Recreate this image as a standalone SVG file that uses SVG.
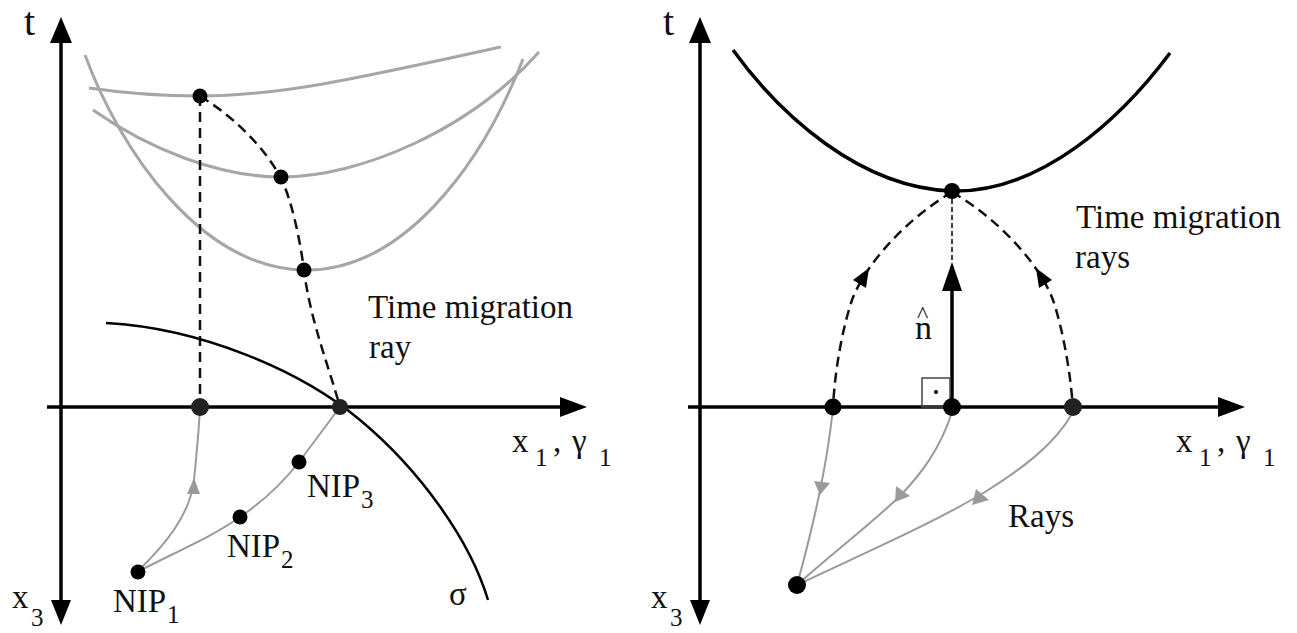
<svg xmlns="http://www.w3.org/2000/svg" width="1297" height="633" viewBox="0 0 1297 633">
<style>
text{font-family:"Liberation Serif","Times New Roman",serif;fill:#111}
.lbl{font-size:33px}
.sub{font-size:25px}
.ax{stroke:#000;stroke-width:3.5;fill:none}
.ah{fill:#000}
.gc{stroke:#a6a6a6;stroke-width:3;fill:none}
.ray{stroke:#9a9a9a;stroke-width:2;fill:none}
.rah{fill:#9a9a9a}
.dash{stroke:#111;stroke-width:2.5;fill:none;stroke-dasharray:10 6}
.blk{stroke:#000;fill:none}
.dot{fill:#000}
.adot{fill:#222}
</style>
<rect width="1297" height="633" fill="#fff"/>

<!-- LEFT PANEL -->
<g id="left-axes">
  <path class="ax" d="M47,407 H565"/>
  <polygon class="ah" points="587,407 560,397 560,417"/>
  <path class="ax" d="M61,40 V603"/>
  <polygon class="ah" points="61,17 50,43 72,43"/>
  <polygon class="ah" points="61,625 51,600 71,600"/>
  <text class="lbl" x="24" y="35" style="font-size:40px">t</text>
  <text class="lbl" x="12" y="608">x</text><text class="sub" x="31" y="626">3</text>
  <text class="lbl" x="512" y="452">x</text><text class="sub" x="535" y="466">1</text>
  <text class="lbl" x="553" y="452">,</text>
  <text class="lbl" x="572" y="452">γ</text><text class="sub" x="599" y="466">1</text>
</g>

<g id="left-connectors">
  <path class="gc" d="M89,88 C130,94 165,96 200,96 C280,96 360,78 501,47"/>
  <path class="gc" d="M93,110 C150,150 220,177 281,177 C360,177 470,130 539,52"/>
  <path class="gc" d="M85,55 C120,150 200,268 304,270 C400,272 480,170 523,59"/>
  <path class="dash" d="M200,96 V407"/>
  <path class="dash" d="M200,96 C235,118 262,145 280,176 C292,200 300,240 304,270 C310,320 330,370 340,407"/>
  <path class="blk" stroke-width="2.5" d="M106,323 C200,328 300,370 360,420 C420,470 470,540 488,600"/>
  <path class="ray" d="M137,572 C165,545 190,515 194,480 C197,450 199,430 200,407"/>
  <polygon class="rah" points="194,478 187,494 200,494"/>
  <path class="ray" d="M137,572 C180,550 215,535 240,517 C265,500 285,480 299,462 L340,407"/>
</g>

<g id="left-dots">
  <circle class="dot" cx="200" cy="96" r="7.5"/>
  <circle class="dot" cx="281" cy="177" r="7.5"/>
  <circle class="dot" cx="304" cy="270" r="7.5"/>
  <circle class="adot" cx="200" cy="407" r="9"/>
  <circle class="adot" cx="340" cy="407" r="8"/>
</g>

<g id="nip1"><circle class="dot" cx="138" cy="572" r="7.5"/>
  <text class="lbl" x="113" y="612">NIP</text><text class="sub" x="167" y="623">1</text></g>
<g id="nip2"><circle class="dot" cx="240" cy="517" r="7.5"/>
  <text class="lbl" x="227" y="557">NIP</text><text class="sub" x="281" y="568">2</text></g>
<g id="nip3"><circle class="dot" cx="299" cy="462" r="7.5"/>
  <text class="lbl" x="307" y="497">NIP</text><text class="sub" x="361" y="508">3</text></g>

<g id="left-labels">
  <text class="lbl" x="368" y="318">Time migration</text>
  <text class="lbl" x="369" y="358">ray</text>
  <text class="lbl" x="449" y="605">σ</text>
</g>

<!-- RIGHT PANEL -->
<g id="right-axes">
  <path class="ax" d="M688,407 H1222"/>
  <polygon class="ah" points="1245,407 1218,397 1218,417"/>
  <path class="ax" d="M700,40 V603"/>
  <polygon class="ah" points="700,17 689,43 711,43"/>
  <polygon class="ah" points="700,625 690,600 710,600"/>
  <text class="lbl" x="663" y="35" style="font-size:40px">t</text>
  <text class="lbl" x="651" y="608">x</text><text class="sub" x="670" y="626">3</text>
  <text class="lbl" x="1176" y="452">x</text><text class="sub" x="1199" y="466">1</text>
  <text class="lbl" x="1217" y="452">,</text>
  <text class="lbl" x="1236" y="452">γ</text><text class="sub" x="1263" y="466">1</text>
</g>

<g id="right-connectors">
  <path class="blk" stroke-width="3.5" d="M733,50 C780,115 860,188 952,191 C1040,193 1120,120 1170,53"/>
  <path class="dash" d="M952,192 C905,220 865,265 852,300 C842,330 835,370 833,407"/>
  <polygon class="ah" points="869,268 853,280 866,288"/>
  <path class="dash" d="M952,192 C1000,220 1040,265 1053,300 C1063,330 1070,370 1073,407"/>
  <polygon class="ah" points="1036,268 1052,280 1039,288"/>
  <path class="blk" stroke-width="1.5" stroke-dasharray="5 3" d="M952,199 V262"/>
  <path class="blk" stroke-width="3.5" d="M952,407 V285"/>
  <polygon class="ah" points="952,262 942,291 962,291"/>
  <path class="ray" d="M797,585 Q826,480 833,407"/>
  <polygon class="rah" points="820,495 814,481 830,483"/>
  <path class="ray" d="M952,412 C940,450 920,475 900,496 C870,525 830,555 797,585"/>
  <polygon class="rah" points="895,502 896,486 910,496"/>
  <path class="ray" d="M1073,412 C1055,445 1020,470 985,492 C930,525 860,555 797,585"/>
  <polygon class="rah" points="972,505 976,489 989,500"/>
</g>

<g id="right-angle">
  <rect x="922" y="378" width="28" height="29" fill="none" stroke="#444" stroke-width="1.5"/>
  <circle cx="936" cy="392" r="2" fill="#000"/>
</g>

<g id="right-dots">
  <circle class="dot" cx="952" cy="191" r="8"/>
  <circle class="dot" cx="833" cy="407" r="8.5"/>
  <circle class="dot" cx="952" cy="407" r="9"/>
  <circle class="adot" cx="1073" cy="407" r="9"/>
  <circle class="dot" cx="797" cy="585" r="9"/>
</g>

<g id="right-labels">
  <text class="lbl" x="915" y="339" style="font-size:34px">n</text>
  <text class="lbl" x="917" y="322" style="font-size:24px">^</text>
  <text class="lbl" x="1076" y="228">Time migration</text>
  <text class="lbl" x="1075" y="268">rays</text>
  <text class="lbl" x="1008" y="527">Rays</text>
</g>
</svg>
